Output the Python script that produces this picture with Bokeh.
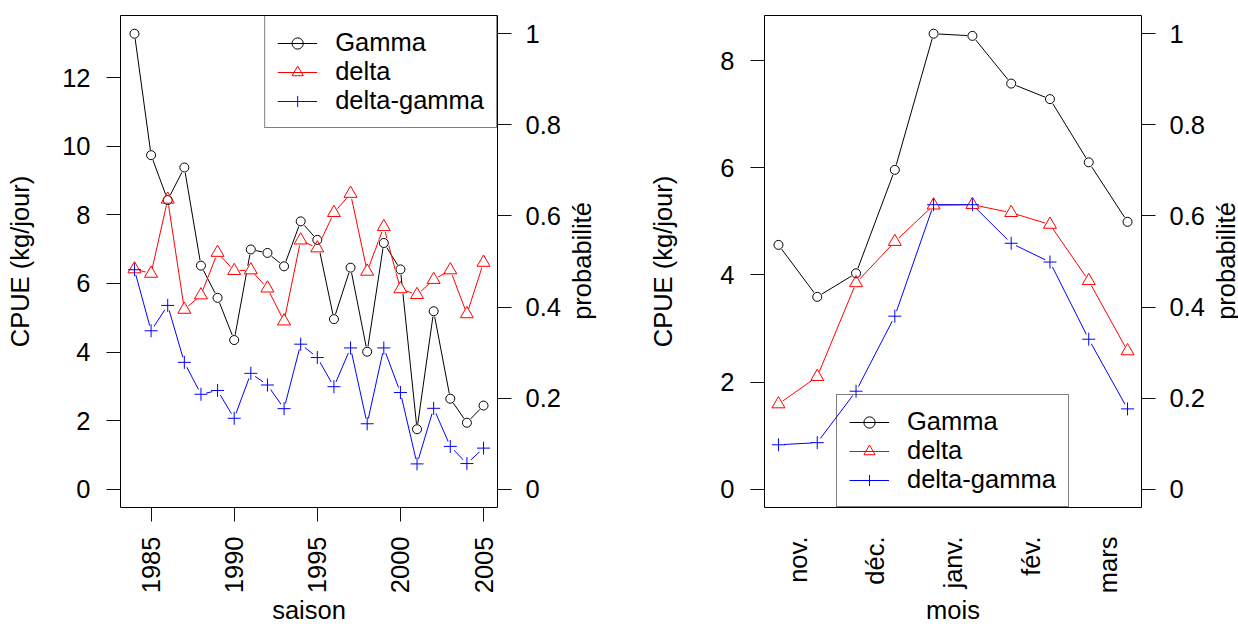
import math
from bokeh.plotting import figure
from bokeh.models import Range1d, LinearAxis, FixedTicker, Legend, LegendItem, Label
from bokeh.layouts import row
from bokeh.embed import file_html
from bokeh.resources import INLINE

# ---------------- data ----------------
saisons = list(range(1984, 2006))
gamma_saison = [13.28, 9.74, 8.43, 9.38, 6.52, 5.58, 4.35, 6.99, 6.89, 6.50, 7.81,
                7.27, 4.96, 6.46, 4.01, 7.18, 6.41, 1.75, 5.19, 2.64, 1.94, 2.44]
delta_saison = [6.42, 6.29, 8.45, 5.24, 5.66, 6.90, 6.37, 6.39, 5.86, 4.90, 7.26,
                7.03, 8.06, 8.62, 6.35, 7.65, 5.84, 5.67, 6.11, 6.39, 5.11, 6.61]
deltagamma_saison = [6.40, 4.62, 5.36, 3.70, 2.77, 2.88, 2.07, 3.38, 3.04, 2.35, 4.23,
                     3.84, 2.99, 4.12, 1.91, 4.12, 2.82, 0.74, 2.36, 1.25, 0.75, 1.20]
saison_ticks = [1985, 1990, 1995, 2000, 2005]

periodes = [1, 2, 3, 4, 5, 6, 7, 8, 9, 10]
gamma_mois = [4.56, 3.59, 4.03, 5.96, 8.50, 8.46, 7.57, 7.28, 6.10, 4.99]
delta_mois = [1.59, 2.10, 3.85, 4.62, 5.30, 5.31, 5.16, 4.94, 3.89, 2.58]
deltagamma_mois = [0.83, 0.87, 1.83, 3.23, 5.31, 5.31, 4.59, 4.24, 2.80, 1.50]
mois_ticks = [1.5, 3.5, 5.5, 7.5, 9.5]
mois_labels = ["nov.", "déc.", "janv.", "fév.", "mars"]

cpue_ticks_saison = [0, 2, 4, 6, 8, 10, 12]
cpue_ticks_mois = [0, 2, 4, 6, 8]
prob_ticks = [0, 0.2, 0.4, 0.6, 0.8, 1]
prob_labels = ["0", "0.2", "0.4", "0.6", "0.8", "1"]

series_names = ["Gamma", "delta", "delta-gamma"]
series_colors = ["black", "red", "blue"]
series_markers = ["circle", "triangle", "cross"]
series_sizes = [9, 13, 13]

# ---------------- styling ----------------
FONT = "Liberation Sans"
FS = "25.5px"
H = 624
TOP = 15
FRAME_H = 493
BOTTOM = H - TOP - FRAME_H


def expand(lo, hi, f=0.04):
    d = (hi - lo) * f
    return lo - d, hi + d


def style_axis(ax, standoff, tick_out=14):
    ax.axis_line_color = None
    ax.major_tick_out = tick_out
    ax.major_tick_in = 0
    ax.major_tick_line_color = "#111111" if tick_out > 0 else None
    ax.minor_tick_line_color = None
    ax.major_label_text_font = FONT
    ax.major_label_text_font_size = FS
    ax.major_label_text_color = "black"
    ax.major_label_standoff = standoff
    ax.axis_label_text_font = FONT
    ax.axis_label_text_font_size = FS
    ax.axis_label_text_font_style = "normal"
    ax.axis_label_text_color = "black"


def side_label(text, x, y, angle):
    return Label(x=x, y=y, x_units="screen", y_units="screen", text=text,
                 angle=angle, text_align="center", text_baseline="alphabetic",
                 text_font=FONT, text_font_size=FS, text_color="black")


def panel(x, series, xticks, xlabels, yticks, width, left, right, xtitle,
          legend_loc, cpue_standoff, prob_x, title_y, bottom_ticks=True):
    frame_w = width - left - right
    x0, x1 = expand(min(x), max(x))
    ymax = max(max(s) for s in series)
    y0, y1 = expand(0, ymax)
    scale = max(series[0])
    p = figure(width=width, height=H, x_range=Range1d(x0, x1), y_range=Range1d(y0, y1),
               output_backend="svg", toolbar_location=None,
               min_border_left=left, min_border_right=right,
               min_border_top=TOP, min_border_bottom=BOTTOM)
    p.extra_y_ranges = {"prob": Range1d(y0 / scale, y1 / scale)}
    p.xgrid.visible = False
    p.ygrid.visible = False
    p.outline_line_color = "black"
    p.outline_line_width = 1
    p.outline_line_alpha = 1
    p.background_fill_color = "white"
    p.border_fill_color = "white"

    # axes
    xa = p.xaxis[0]
    style_axis(xa, 15 if bottom_ticks else 29, 14 if bottom_ticks else 0)
    xa.ticker = FixedTicker(ticks=xticks)
    if xlabels is not None:
        xa.major_label_overrides = {t: l for t, l in zip(xticks, xlabels)}
    xa.major_label_orientation = math.pi / 2
    p.add_layout(side_label(xtitle, frame_w / 2, title_y, 0), "below")

    ya = p.yaxis[0]
    style_axis(ya, 16)
    ya.ticker = FixedTicker(ticks=yticks)
    ya.axis_label = "CPUE (kg/jour)"
    ya.axis_label_standoff = cpue_standoff

    ra = LinearAxis(y_range_name="prob")
    style_axis(ra, 14)
    ra.ticker = FixedTicker(ticks=prob_ticks)
    ra.major_label_overrides = {t: l for t, l in zip(prob_ticks, prob_labels)}
    p.add_layout(ra, "right")
    p.add_layout(side_label("probabilité", prob_x, FRAME_H / 2, math.pi / 2), "right")

    # lines (type "b": gaps around points emulated by white masks)
    lines = []
    for s, c in zip(series, series_colors):
        lines.append(p.line(x, s, line_color=c, line_width=1))
    for s in series:
        p.scatter(x, s, marker="circle", size=11, fill_color="white",
                  line_color=None)
    marks = []
    for s, c, m, sz in zip(series, series_colors, series_markers, series_sizes):
        marks.append(p.scatter(x, s, marker=m, size=sz, fill_color=None,
                               line_color=c, line_width=1))

    items = [LegendItem(label=n, renderers=[l, m])
             for n, l, m in zip(series_names, lines, marks)]
    leg = Legend(items=items, location=legend_loc, orientation="vertical",
                 label_text_font=FONT, label_text_font_size=FS,
                 label_text_color="black",
                 glyph_width=40, glyph_height=28, label_height=28,
                 label_standoff=18, spacing=0, padding=12, margin=0,
                 border_line_color="black", border_line_width=1,
                 background_fill_alpha=0)
    p.add_layout(leg)
    return p


p1 = panel(saisons, [gamma_saison, delta_saison, deltagamma_saison],
           saison_ticks, None, cpue_ticks_saison,
           width=620, left=120, right=123, xtitle="saison",
           legend_loc="top_right", cpue_standoff=25, prob_x=18, title_y=15)
p2 = panel(periodes, [gamma_mois, delta_mois, deltagamma_mois],
           mois_ticks, mois_labels, cpue_ticks_mois,
           width=618, left=144, right=97, xtitle="mois",
           legend_loc=(72, 0), cpue_standoff=40, prob_x=18, title_y=15,
           bottom_ticks=False)

layout = row(p1, p2)
open("out.html", "w").write(file_html(layout, INLINE))
